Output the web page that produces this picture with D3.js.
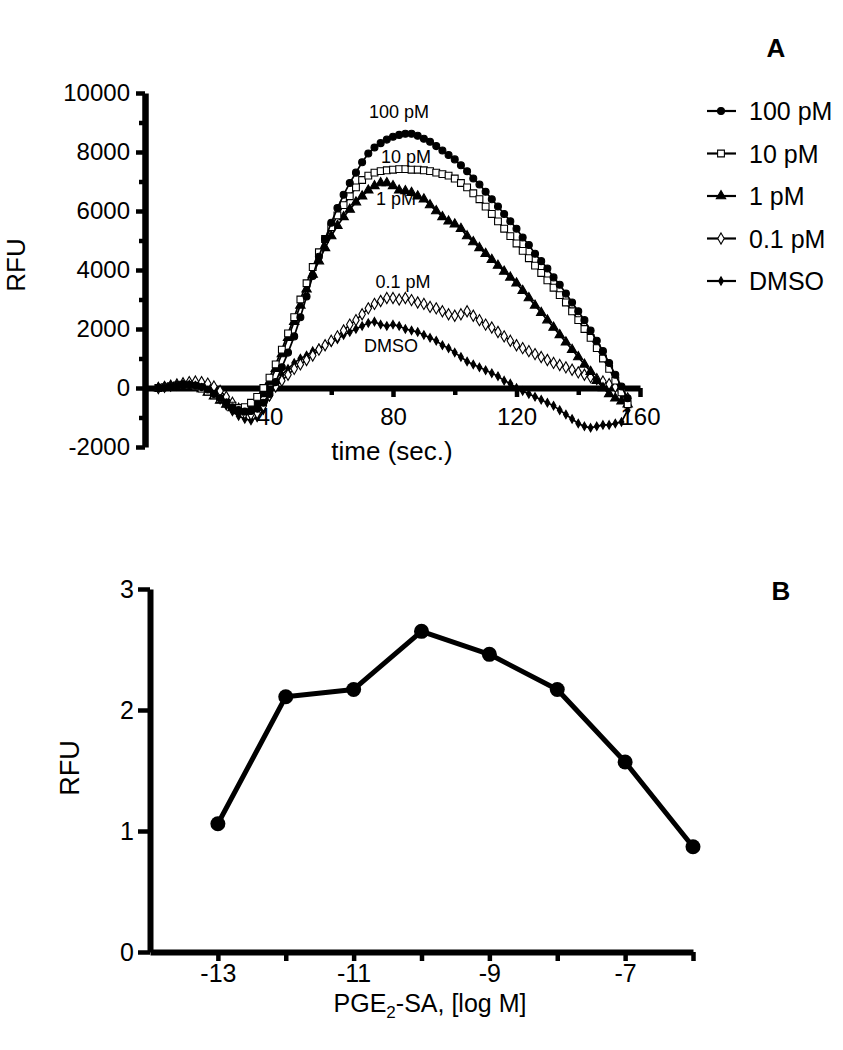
<!DOCTYPE html>
<html><head><meta charset="utf-8">
<script src="https://cdn.jsdelivr.net/npm/d3@7"></script>
<style>
html,body{margin:0;padding:0;background:#fff;}
svg{display:block;font-family:"Liberation Sans",Arial,Helvetica,sans-serif;}
</style></head>
<body>
<svg id="chart" width="843" height="1050"></svg>
<script>
// ---------- Panel A data ----------
const timeStart = 4, timeStep = 2;
const seriesNames = ["100 pM", "10 pM", "1 pM", "0.1 pM", "DMSO"];
const v100pM = [0,20,50,80,100,100,80,30,-50,
  -200,-350,-500,-650,-750,-800,-780,-700,-500,-200,
  200,700,1200,1750,2400,3100,3800,4450,5050,5600,
  6100,6550,6950,7300,7650,7950,8150,8300,8420,8520,
  8580,8620,8620,8550,8450,8350,8200,8050,7900,7750,
  7550,7350,7100,6900,6650,6400,6150,5900,5650,5400,
  5100,4850,4550,4300,4050,3750,3500,3200,2900,2600,
  2300,1950,1600,1250,850,450,50,-350];
const v10pM = [0,30,60,90,110,90,50,-20,-120,
  -250,-380,-500,-600,-680,-650,-500,-300,0,350,
  800,1300,1850,2400,3000,3550,4100,4600,5050,5450,
  5850,6200,6500,6800,7050,7200,7300,7350,7380,7400,
  7420,7420,7400,7400,7380,7350,7300,7250,7200,7100,
  6950,6800,6600,6400,6150,5900,5650,5400,5150,4900,
  4650,4400,4150,3900,3650,3400,3150,2900,2600,2300,
  2000,1700,1350,1000,650,250,-150,-550];
const v1pM = [0,20,40,70,90,80,40,-30,-150,
  -280,-420,-560,-680,-780,-800,-700,-500,-200,200,
  650,1150,1700,2250,2800,3350,3850,4300,4750,5150,
  5500,5800,6050,6300,6500,6700,6850,6950,6950,6850,
  6700,6680,6620,6500,6400,6200,6000,5800,5650,5550,
  5400,5150,4950,4750,4550,4350,4150,3950,3750,3550,
  3300,3050,2800,2550,2300,2050,1800,1550,1300,1050,
  800,550,250,0,-200,-350,-450,-550];
const v01pM = [0,40,80,120,160,200,220,200,150,
  50,-100,-300,-500,-700,-850,-900,-850,-600,-250,
  50,250,450,650,800,950,1100,1300,1450,1600,
  1750,1950,2150,2300,2500,2700,2850,2950,3050,3050,
  3000,3050,2980,2900,2850,2750,2700,2600,2500,2450,
  2500,2600,2450,2300,2150,2050,1900,1750,1600,1450,
  1350,1250,1150,1050,950,850,780,700,620,530,
  450,370,300,220,130,40,-150,-350];
const vDMSO = [0,30,60,80,100,120,100,50,-50,
  -200,-400,-600,-800,-950,-1050,-1100,-1000,-750,-300,
  150,450,650,850,1000,1100,1250,1350,1450,1550,
  1650,1800,1900,2000,2100,2200,2250,2150,2100,2150,
  2100,2000,1950,1900,1800,1700,1600,1450,1350,1200,
  1050,900,800,700,600,500,400,250,150,0,
  -100,-200,-300,-400,-500,-600,-750,-900,-1050,-1200,
  -1300,-1350,-1300,-1250,-1250,-1200,-1150,-750];
const yTicksA = [-2000,0,2000,4000,6000,8000,10000];
const yMinorA = [-1000,1000,3000,5000,7000,9000];
const xTicksA = [40,80,120,160];
const xMinorA = [20,60,100,140];

// ---------- Panel B data ----------
const logConc = [-13,-12,-11,-10,-9,-8,-7,-6];
const rfuB = [1.06,2.11,2.17,2.65,2.46,2.17,1.57,0.87];
const xTickLabelsB = [-13,-11,-9,-7];
const yTicksB = [0,1,2,3];

const fmt = d => String(d);   // plain hyphen-minus, as in the reference
const FONT = "Liberation Sans, Arial, sans-serif";
const svg = d3.select("#chart");

function styleAxis(g, domainW, tickW, fs) {
  g.select(".domain").style("stroke-width", domainW + "px").style("stroke","#000");
  g.selectAll(".tick line").style("stroke-width", tickW + "px").style("stroke","#000");
  g.selectAll("text").attr("font-size", fs).attr("fill","#000").attr("font-family", FONT);
}

// ================= Panel A =================
const xA = d3.scaleLinear().domain([0,160]).range([146,640]);
const yA = d3.scaleLinear().domain([-2000,10000]).range([447,93]);

const gA = svg.append("g");
// y axis
gA.append("g").attr("transform","translate(145,0)")
  .call(d3.axisLeft(yA).tickValues(yMinorA).tickSize(6).tickSizeOuter(0).tickFormat(""))
  .call(g=>g.select(".domain").remove())
  .call(g=>styleAxis(g,6,4.5,24));
gA.append("g").attr("transform","translate(145,0)")
  .call(d3.axisLeft(yA).tickValues(yTicksA).tickSize(9).tickSizeOuter(0).tickPadding(6).tickFormat(fmt))
  .call(g=>styleAxis(g,6.5,4.5,24));
// x axis
gA.append("g").attr("transform",`translate(0,${yA(0)})`)
  .call(d3.axisBottom(xA).tickValues(xMinorA).tickSize(7).tickSizeOuter(0).tickFormat(""))
  .call(g=>g.select(".domain").remove())
  .call(g=>styleAxis(g,6,4.5,24));
gA.append("g").attr("transform",`translate(0,${yA(0)})`)
  .call(d3.axisBottom(xA).tickValues(xTicksA).tickSize(9).tickSizeOuter(0).tickPadding(11).tickFormat(fmt))
  .call(g=>styleAxis(g,6,4.5,24));

// axis titles
gA.append("text").attr("transform","translate(25,265) rotate(-90)")
  .attr("text-anchor","middle").attr("font-size",26).text("RFU");
gA.append("text").attr("x",392).attr("y",460)
  .attr("text-anchor","middle").attr("font-size",26).text("time (sec.)");
gA.append("text").attr("x",776).attr("y",57)
  .attr("text-anchor","middle").attr("font-size",26).attr("font-weight","bold").text("A");

// series
const seriesVals = [v100pM, v10pM, v1pM, v01pM, vDMSO];
const symTypes = [d3.symbolCircle, d3.symbolSquare, d3.symbolTriangle, d3.symbolDiamond, d3.symbolDiamond];
const symSizes = [38, 46, 38, 36, 20];
const symFill = ["#000","#fff","#000","#fff","#000"];
const line = d3.line().x(d=>xA(d[0])).y(d=>yA(d[1]));
const seriesData = seriesVals.map(vals => vals.map((v,i)=>[timeStart + i*timeStep, v]));

for (let s = seriesData.length-1; s >= 0; s--) {
  const g = gA.append("g");
  g.append("path").datum(seriesData[s]).attr("d",line)
    .attr("fill","none").attr("stroke","#000").attr("stroke-width",1.7);
  g.selectAll("path.m").data(seriesData[s]).join("path").attr("class","m")
    .attr("transform",d=>`translate(${xA(d[0])},${yA(d[1])})`)
    .attr("d", d3.symbol().type(symTypes[s]).size(symSizes[s]))
    .attr("fill",symFill[s]).attr("stroke","#000").attr("stroke-width",1.1);
}

// curve labels
const curveLabelPos = [[399,118],[406,163],[396,205],[403,288],[391,352]];
seriesNames.forEach((n,i)=>{
  gA.append("text").attr("x",curveLabelPos[i][0]).attr("y",curveLabelPos[i][1])
    .attr("text-anchor","middle").attr("font-size",18).text(n);
});

// legend
const legY = d3.scalePoint().domain(seriesNames).range([111,281]);
const leg = gA.append("g");
seriesNames.forEach((n,i)=>{
  const y = legY(n);
  leg.append("line").attr("x1",707).attr("x2",736).attr("y1",y).attr("y2",y)
    .attr("stroke","#000").attr("stroke-width",2.2);
  leg.append("path").attr("transform",`translate(721,${y})`)
    .attr("d", d3.symbol().type(symTypes[i]).size(symSizes[i]))
    .attr("fill",symFill[i]).attr("stroke","#000").attr("stroke-width",1.1);
  leg.append("text").attr("x",749).attr("y",y+9).attr("font-size",25).text(n);
});

// ================= Panel B =================
const xB = d3.scaleLinear().domain([-14,-6]).range([150,693]);
const yB = d3.scaleLinear().domain([0,3]).range([952,589]);
const gB = svg.append("g");
gB.append("g").attr("transform","translate(150,0)")
  .call(d3.axisLeft(yB).tickValues(yTicksB).tickSize(12).tickSizeOuter(0).tickPadding(4).tickFormat(fmt))
  .call(g=>styleAxis(g,6,4.5,25));
gB.append("g").attr("transform",`translate(0,${yB(0)})`)
  .call(d3.axisBottom(xB).tickValues(logConc).tickSize(9).tickSizeOuter(0).tickPadding(3)
     .tickFormat(d=> xTickLabelsB.includes(d) ? fmt(d) : ""))
  .call(g=>styleAxis(g,6,4.5,25));

gB.append("text").attr("transform","translate(79,768) rotate(-90)")
  .attr("text-anchor","middle").attr("font-size",27).text("RFU");
const xt = gB.append("text").attr("x",430).attr("y",1012).attr("text-anchor","middle").attr("font-size",25);
xt.append("tspan").text("PGE");
xt.append("tspan").attr("font-size",17).attr("dy",6).text("2");
xt.append("tspan").attr("dy",-6).text("-SA, [log M]");
gB.append("text").attr("x",781).attr("y",600)
  .attr("text-anchor","middle").attr("font-size",26).attr("font-weight","bold").text("B");

const lineB = d3.line().x((d,i)=>xB(logConc[i])).y(d=>yB(d));
gB.append("path").datum(rfuB).attr("d",lineB).attr("fill","none")
  .attr("stroke","#000").attr("stroke-width",5).attr("stroke-linejoin","round");
gB.selectAll("circle.pt").data(rfuB).join("circle").attr("class","pt")
  .attr("cx",(d,i)=>xB(logConc[i])).attr("cy",d=>yB(d)).attr("r",7.5).attr("fill","#000");
</script>
</body></html>
